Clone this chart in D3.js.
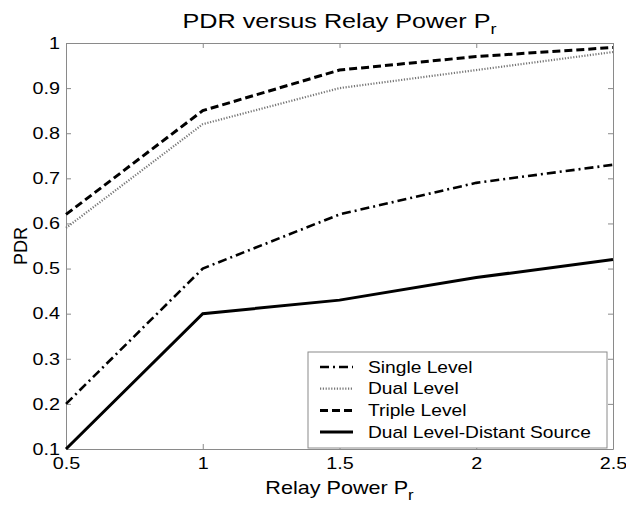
<!DOCTYPE html>
<html>
<head>
    <style>
        body { margin: 0; background: #fff; }
        text { font-family: Arial, "Liberation Sans", sans-serif; fill: #000; }
        .tick text { font-size: 16.5px; }
    </style>
    <script src="https://d3js.org/d3.v7.min.js"></script>
</head>
<body>
    <svg width="626" height="505"></svg>
    <script>
        var powers = [0.5, 1, 1.5, 2, 2.5];
        var singleLevel = [0.20, 0.50, 0.62, 0.69, 0.73];
        var dualLevel = [0.59, 0.82, 0.90, 0.94, 0.98];
        var tripleLevel = [0.62, 0.85, 0.94, 0.97, 0.99];
        var distantSource = [0.10, 0.40, 0.43, 0.48, 0.52];
        var seriesNames = ["Single Level", "Dual Level", "Triple Level", "Dual Level-Distant Source"];
        var xTicks = [0.5, 1, 1.5, 2, 2.5];
        var yTicks = [0.1, 0.2, 0.3, 0.4, 0.5, 0.6, 0.7, 0.8, 0.9, 1];

        var svg = d3.select("svg");
        var plotL = 66, plotR = 613, plotT = 43, plotB = 449;
        var stretch = "scale(1.2,1)"; // the figure's text is a little wider than plain Arial

        var x = d3.scaleLinear().domain([0.5, 2.5]).range([plotL, plotR]);
        var y = d3.scaleLinear().domain([0.1, 1]).range([plotB, plotT]);

        var styles = [
            { dash: "9,4,2,4", width: 2.6, color: "#000" },
            { dash: "1.2,1.6", width: 2.2, color: "#777" },
            { dash: "8,4", width: 3, color: "#000" },
            { dash: null, width: 3, color: "#000" }
        ];
        var allSeries = [singleLevel, dualLevel, tripleLevel, distantSource];

        // axes, MATLAB style: ticks point inward, on all four sides
        var fmt = function(d) { return d3.format("")(d); };
        var gx = svg.append("g").attr("transform", "translate(0," + plotB + ")")
            .call(d3.axisBottom(x).tickValues(xTicks).tickSizeInner(-5).tickSizeOuter(0).tickPadding(8).tickFormat(fmt));
        svg.append("g").attr("transform", "translate(0," + plotT + ")")
            .call(d3.axisTop(x).tickValues(xTicks).tickSizeInner(-5).tickSizeOuter(0).tickFormat(""));
        var gy = svg.append("g").attr("transform", "translate(" + plotL + ",0)")
            .call(d3.axisLeft(y).tickValues(yTicks).tickSizeInner(-5).tickSizeOuter(0).tickPadding(5).tickFormat(fmt));
        svg.append("g").attr("transform", "translate(" + plotR + ",0)")
            .call(d3.axisRight(y).tickValues(yTicks).tickSizeInner(-5).tickSizeOuter(0).tickFormat(""));

        svg.selectAll(".domain").attr("stroke", "#8a8a8a");
        svg.selectAll(".tick line").attr("stroke", "#8a8a8a");
        svg.selectAll(".tick text").attr("font-family", null).attr("font-size", null)
           .attr("transform", stretch);

        var line = d3.line()
            .x(function(d, i) { return x(powers[i]); })
            .y(function(d) { return y(d); });

        allSeries.forEach(function(s, i) {
            svg.append("path")
               .datum(s)
               .attr("d", line)
               .attr("fill", "none")
               .attr("stroke", styles[i].color)
               .attr("stroke-width", styles[i].width)
               .attr("stroke-dasharray", styles[i].dash);
        });

        // title and labels
        var title = svg.append("text")
            .attr("transform", "translate(" + (plotL + plotR) / 2 + ",28) " + stretch)
            .attr("text-anchor", "middle")
            .style("font-size", "21px");
        title.append("tspan").text("PDR versus Relay Power P");
        title.append("tspan").attr("dy", 6).style("font-size", "15px").text("r");

        var xl = svg.append("text")
            .attr("transform", "translate(" + (plotL + plotR) / 2 + ",494) " + stretch)
            .attr("text-anchor", "middle")
            .style("font-size", "18px");
        xl.append("tspan").text("Relay Power P");
        xl.append("tspan").attr("dy", 6).style("font-size", "14px").text("r");

        svg.append("text")
            .attr("transform", "translate(27," + (plotT + plotB) / 2 + ") rotate(-90)")
            .attr("text-anchor", "middle")
            .style("font-size", "18px")
            .text("PDR");

        // legend
        var legend = svg.append("g").attr("transform", "translate(308,352)");
        legend.append("rect")
            .attr("width", 299).attr("height", 96)
            .attr("fill", "#fff").attr("stroke", "#8a8a8a");

        seriesNames.forEach(function(name, i) {
            var ly = 15 + i * 21.7;
            legend.append("line")
                .attr("x1", 12).attr("x2", 45)
                .attr("y1", ly).attr("y2", ly)
                .attr("stroke", styles[i].color)
                .attr("stroke-width", styles[i].width)
                .attr("stroke-dasharray", styles[i].dash);
            legend.append("text")
                .attr("transform", "translate(60," + ly + ") " + stretch)
                .attr("dy", "0.35em")
                .style("font-size", "16px")
                .text(name);
        });
    </script>
</body>
</html>
